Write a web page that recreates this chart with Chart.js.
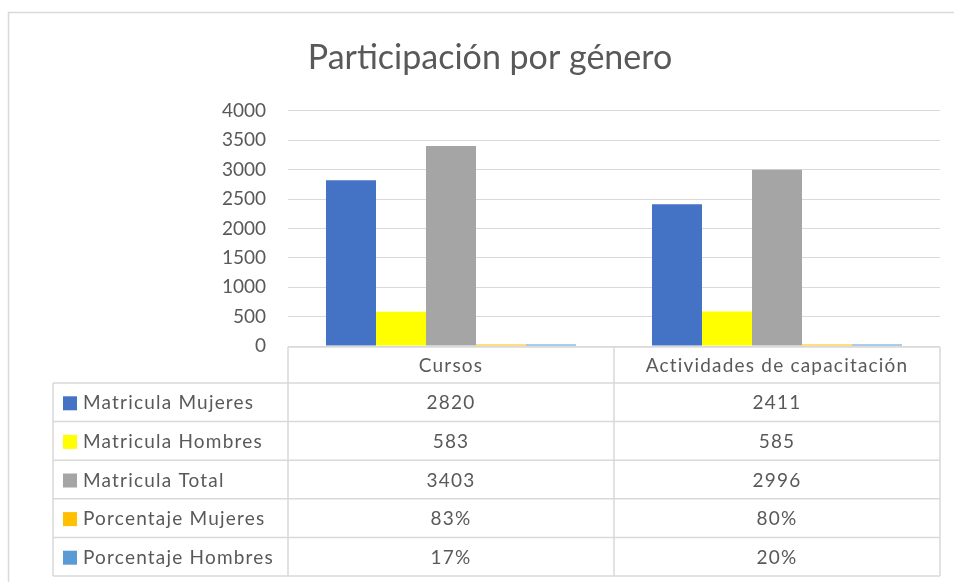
<!DOCTYPE html>
<html>
<head>
<meta charset="utf-8">
<style>
  html, body { margin: 0; padding: 0; background: #fff; }
  #chart { display: block; }
</style>
<script src="https://cdn.jsdelivr.net/npm/chart.js@4/dist/chart.umd.min.js"></script>
</head>
<body>
<canvas id="chart" width="954" height="582"></canvas>
<script>
const categories = ['Cursos', 'Actividades de capacitación'];
const seriesNames = ['Matricula Mujeres', 'Matricula Hombres', 'Matricula Total', 'Porcentaje Mujeres', 'Porcentaje Hombres'];
const matriculaMujeres = [2820, 2411];
const matriculaHombres = [583, 585];
const matriculaTotal = [3403, 2996];
const porcentajeMujeres = [0.83, 0.80];
const porcentajeHombres = [0.17, 0.20];
const yTicks = [0, 500, 1000, 1500, 2000, 2500, 3000, 3500, 4000];

const seriesColors = ['#4472C4', '#FFFF00', '#A5A5A5', '#FFC000', '#5B9BD5'];
const textColor = '#595959';
const lineColor = '#d9d9d9';

const seriesValues = [matriculaMujeres, matriculaHombres, matriculaTotal, porcentajeMujeres, porcentajeHombres];
const isPercent = [false, false, false, true, true];

function fmt(v, pct) {
  return pct ? Math.round(v * 100) + '%' : String(v);
}

// outer chart frame (only top and left edges are visible in the picture)
const framePlugin = {
  id: 'frame',
  beforeDraw(chart) {
    const ctx = chart.ctx;
    ctx.save();
    ctx.fillStyle = '#fff';
    ctx.fillRect(0, 0, chart.width, chart.height);
    ctx.strokeStyle = lineColor;
    ctx.lineWidth = 1.5;
    ctx.beginPath();
    ctx.moveTo(8.5, chart.height);
    ctx.lineTo(8.5, 12.5);
    ctx.lineTo(chart.width, 12.5);
    ctx.stroke();
    ctx.restore();
  }
};

// Excel-style data table with legend keys under the plot
const dataTablePlugin = {
  id: 'dataTable',
  afterDatasetsDraw(chart) {
    const ctx = chart.ctx;
    const area = chart.chartArea;
    const x = chart.scales.x;
    const colW = (area.right - area.left) / categories.length;
    const top = area.bottom + 1;
    const headH = 36;
    const rowH = 38.6;
    const tableLeft = 53;
    const bottom = top + headH + rowH * seriesNames.length;

    ctx.save();
    ctx.strokeStyle = lineColor;
    ctx.lineWidth = 1.5;
    ctx.beginPath();
    ctx.moveTo(area.left, top); ctx.lineTo(area.right, top);
    for (let r = 0; r <= seriesNames.length; r++) {
      const y = top + headH + rowH * r;
      ctx.moveTo(tableLeft, y); ctx.lineTo(area.right, y);
    }
    ctx.moveTo(tableLeft, top + headH); ctx.lineTo(tableLeft, bottom);
    for (let c = 0; c <= categories.length; c++) {
      const xx = area.left + colW * c;
      ctx.moveTo(xx, top); ctx.lineTo(xx, bottom);
    }
    ctx.stroke();

    ctx.fillStyle = textColor;
    ctx.font = '19px Lato';
    ctx.letterSpacing = '1.2px';
    ctx.textBaseline = 'middle';
    ctx.textAlign = 'center';
    categories.forEach((cat, i) => {
      ctx.fillText(cat, x.getPixelForValue(i), top + headH / 2 + 1);
    });

    seriesNames.forEach((name, r) => {
      const cy = top + headH + rowH * r + rowH / 2 + 1;
      ctx.fillStyle = seriesColors[r];
      ctx.fillRect(63, cy - 7, 14, 14);
      ctx.fillStyle = textColor;
      ctx.textAlign = 'left';
      ctx.fillText(name, 83, cy);
      ctx.textAlign = 'center';
      seriesValues[r].forEach((v, i) => {
        ctx.fillText(fmt(v, isPercent[r]), x.getPixelForValue(i), cy);
      });
    });
    ctx.restore();
  }
};

const datasets = seriesNames.map((name, i) => ({
  label: name,
  data: seriesValues[i],
  backgroundColor: seriesColors[i],
  borderWidth: 0,
  minBarLength: isPercent[i] ? 1.5 : 0,
  categoryPercentage: 0.767,
  barPercentage: 1,
}));

new Chart(document.getElementById('chart'), {
  type: 'bar',
  data: { labels: categories, datasets },
  options: {
    responsive: false,
    animation: false,
    devicePixelRatio: 1,
    layout: { padding: { left: 40, right: 14, top: 0, bottom: 236 } },
    plugins: {
      legend: { display: false },
      tooltip: { enabled: false },
      title: {
        display: true,
        text: 'Participación por género',
        color: textColor,
        font: { family: 'Lato', size: 34, weight: 'normal' },
        padding: { top: 38, bottom: 32 },
      },
    },
    scales: {
      x: { display: false },
      y: {
        min: 0,
        max: 4000,
        afterBuildTicks(scale) {
          scale.ticks = yTicks.map(v => ({ value: v }));
        },
        afterFit(scale) { scale.width = 248; },
        border: { display: false },
        grid: { color: lineColor, lineWidth: 1, drawTicks: false },
        ticks: {
          color: textColor,
          font: { family: 'Lato', size: 19 },
          padding: 22,
          callback: v => String(v),
        },
      },
    },
  },
  plugins: [framePlugin, dataTablePlugin],
});
</script>
</body>
</html>
